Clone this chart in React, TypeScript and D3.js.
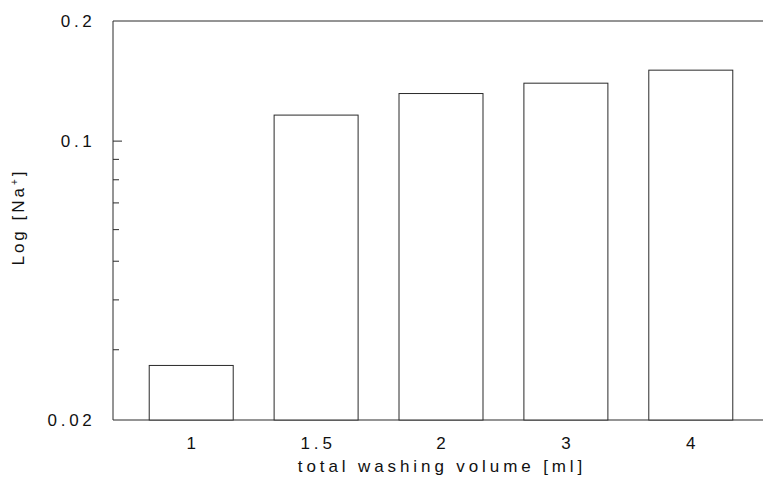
import React from "react";
import * as d3 from "d3";

// Washing volume categories and measured sodium levels
const volumes: string[] = ["1", "1.5", "2", "3", "4"];
const sodium: number[] = [0.0274, 0.1162, 0.1316, 0.1397, 0.1506];
const majorTicks: number[] = [0.02, 0.1, 0.2];
const majorLabels: string[] = ["0.02", "0.1", "0.2"];
const minorTicks: number[] = [0.03, 0.04, 0.05, 0.06, 0.07, 0.08, 0.09];

const W = 763;
const H = 481;
const left = 113;
const right = 769;
const top = 21;
const bottom = 420;
const ink = "#2a2a2a";
const font = "'Liberation Sans', Arial, sans-serif";

export default function App() {
  const x = d3
    .scaleBand<string>()
    .domain(volumes)
    .range([left, right])
    .paddingInner(0.3275)
    .paddingOuter(0.29);
  const y = d3.scaleLog().domain([0.02, 0.2]).range([bottom, top]);

  return (
    <svg
      width={W}
      height={H}
      style={{ position: "absolute", left: 0, top: 0, background: "#fff" }}
    >
      {/* frame: left axis, top and bottom lines */}
      <line x1={left} y1={top} x2={left} y2={bottom} stroke={ink} strokeWidth={1} />
      <line x1={left} y1={top} x2={W} y2={top} stroke={ink} strokeWidth={1} />
      <line x1={left} y1={bottom} x2={W} y2={bottom} stroke={ink} strokeWidth={1} />

      {/* bars */}
      {volumes.map((v, i) => (
        <rect
          key={v}
          x={x(v)}
          y={y(sodium[i])}
          width={x.bandwidth()}
          height={bottom - y(sodium[i])}
          fill="#fff"
          stroke={ink}
          strokeWidth={1}
        />
      ))}

      {/* y ticks */}
      {majorTicks
        .filter((t) => t > 0.02 && t < 0.2)
        .map((t) => (
          <line key={"M" + t} x1={left} x2={left + 9} y1={y(t)} y2={y(t)} stroke={ink} />
        ))}
      {minorTicks.map((t) => (
        <line key={"m" + t} x1={left} x2={left + 6} y1={y(t)} y2={y(t)} stroke={ink} />
      ))}
      {majorTicks.map((t, i) => (
        <text
          key={"L" + t}
          x={95.5}
          y={y(t)}
          dy="0.36em"
          textAnchor="end"
          fontFamily={font}
          fontSize={17}
          letterSpacing={3.7}
          fill="#111"
        >
          {majorLabels[i]}
        </text>
      ))}

      {/* x labels */}
      {volumes.map((v) => (
        <text
          key={"x" + v}
          x={(x(v) as number) + x.bandwidth() / 2 + 2}
          y={449}
          textAnchor="middle"
          fontFamily={font}
          fontSize={17}
          letterSpacing={3.9}
          fill="#111"
        >
          {v}
        </text>
      ))}

      {/* axis titles */}
      <text
        x={442}
        y={472}
        textAnchor="middle"
        fontFamily={font}
        fontSize={17}
        letterSpacing={3.9}
        fill="#111"
      >
        total washing volume [ml]
      </text>
      <text
        transform="translate(24,217) rotate(-90)"
        textAnchor="middle"
        fontFamily={font}
        fontSize={17}
        letterSpacing={3}
        fill="#111"
      >
        Log [Na
        <tspan dy={-6} fontSize={10}>+</tspan>
        <tspan dy={6}>]</tspan>
      </text>
    </svg>
  );
}
